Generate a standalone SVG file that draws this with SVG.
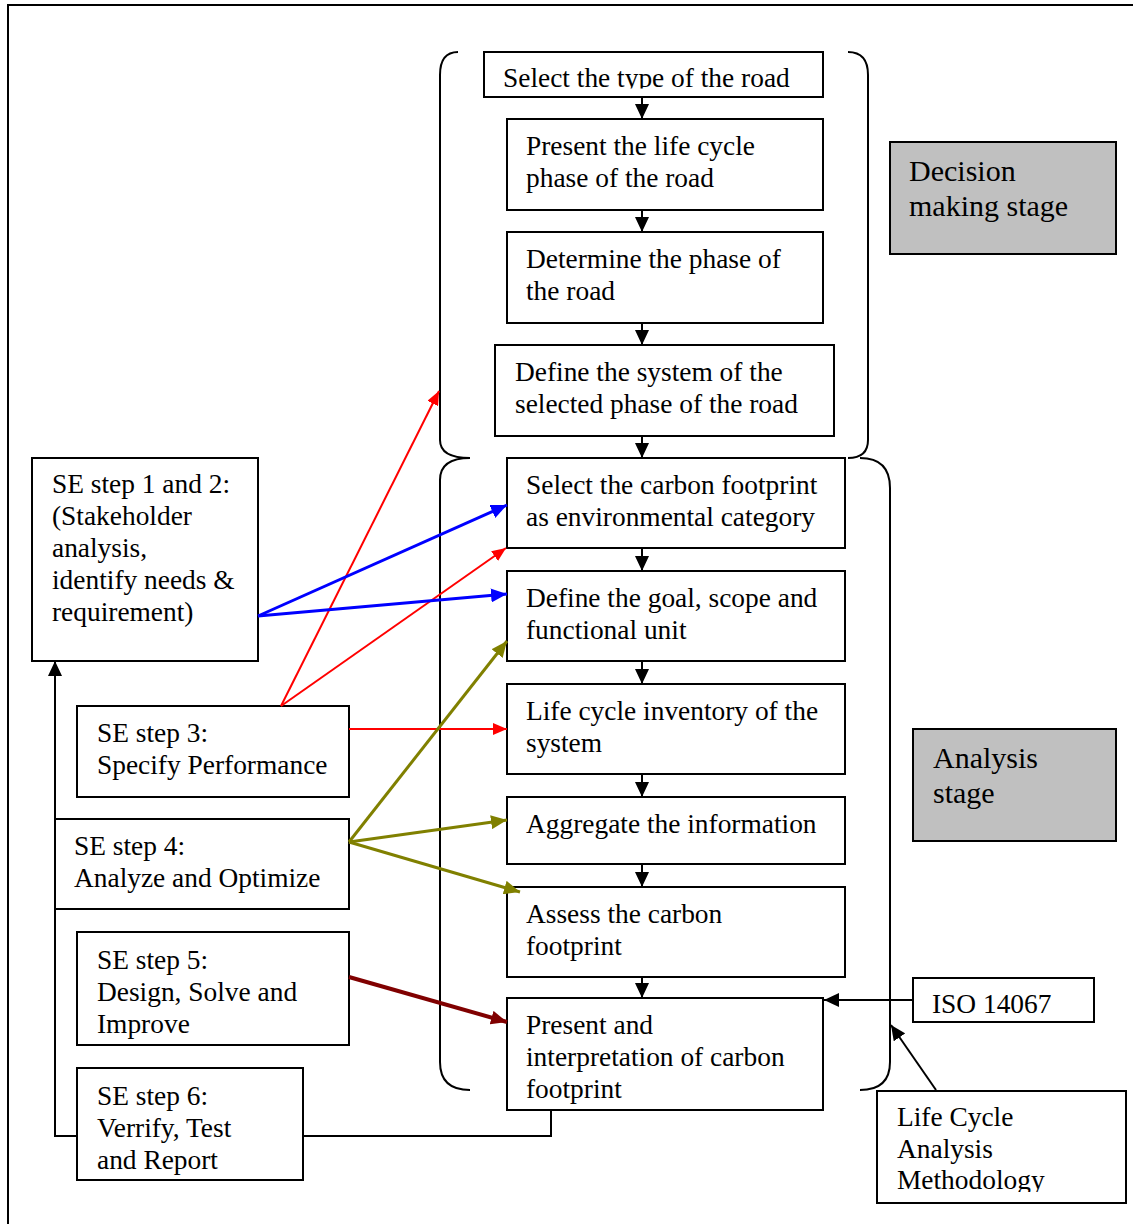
<svg xmlns="http://www.w3.org/2000/svg" width="1133" height="1224" viewBox="0 0 1133 1224">
<style>
.box{fill:#fff;stroke:#000;stroke-width:2}
.gray{fill:#c0c0c0;stroke:#000;stroke-width:2}
.t{font-family:"Liberation Serif","Times New Roman",serif;font-size:27.4px;fill:#000}
.tl{font-family:"Liberation Serif","Times New Roman",serif;font-size:30px;fill:#000}
.br{fill:none;stroke:#000;stroke-width:2}
.k{fill:none;stroke:#000;stroke-width:2}
.red{fill:none;stroke:#ff0000;stroke-width:2}
.blue{fill:none;stroke:#0000ff;stroke-width:3}
.olive{fill:none;stroke:#808000;stroke-width:3}
.dred{fill:none;stroke:#800000;stroke-width:4}
</style>
<defs>
<marker id="ah-k" markerUnits="userSpaceOnUse" markerWidth="16" markerHeight="14" refX="15" refY="7" orient="auto"><path d="M0,0 L15,7 L0,14 z" fill="#000"/></marker>
<marker id="ah-r" markerUnits="userSpaceOnUse" markerWidth="15" markerHeight="12" refX="14" refY="6" orient="auto"><path d="M0,0 L14,6 L0,12 z" fill="#ff0000"/></marker>
<marker id="ah-b" markerUnits="userSpaceOnUse" markerWidth="17" markerHeight="14" refX="16" refY="7" orient="auto"><path d="M0,0 L16,7 L0,14 z" fill="#0000ff"/></marker>
<marker id="ah-o" markerUnits="userSpaceOnUse" markerWidth="17" markerHeight="14" refX="16" refY="7" orient="auto"><path d="M0,0 L16,7 L0,14 z" fill="#808000"/></marker>
<marker id="ah-d" markerUnits="userSpaceOnUse" markerWidth="17" markerHeight="14" refX="16" refY="7" orient="auto"><path d="M0,0 L16,7 L0,14 z" fill="#800000"/></marker>
<clipPath id="clip1"><rect x="484" y="52" width="339" height="36.5"/></clipPath>
<clipPath id="clip2"><rect x="877" y="1091" width="249" height="101"/></clipPath>
</defs>

<rect x="8" y="5" width="1200" height="1300" fill="none" stroke="#000" stroke-width="2"/>

<g id="brackets">
<path class="br" d="M458,52 Q440,52 440,75 L440,440 Q440,458 470,458"/>
<path class="br" d="M848,52 Q868,52 868,75 L868,440 Q868,458 848,458"/>
<path class="br" d="M470,458 Q440,458 440,480 L440,1062 Q440,1090 470,1090"/>
<path class="br" d="M860,458 Q890,458 890,488 L890,1062 Q890,1090 860,1090"/>
</g>

<g id="n1"><rect class="box" x="484" y="52" width="339" height="45"/><text class="t" x="503" y="87" clip-path="url(#clip1)">Select the type of the road</text></g>
<g id="n2"><rect class="box" x="507" y="119" width="316" height="91"/><text class="t" x="526" y="155">Present the life cycle</text><text class="t" x="526" y="187">phase of the road</text></g>
<g id="n3"><rect class="box" x="507" y="232" width="316" height="91"/><text class="t" x="526" y="268">Determine the phase of</text><text class="t" x="526" y="300">the road</text></g>
<g id="n4"><rect class="box" x="495" y="345" width="339" height="91"/><text class="t" x="515" y="381">Define the system of the</text><text class="t" x="515" y="413">selected phase of the road</text></g>
<g id="n5"><rect class="box" x="507" y="458" width="338" height="90"/><text class="t" x="526" y="494">Select the carbon footprint</text><text class="t" x="526" y="526">as environmental category</text></g>
<g id="n6"><rect class="box" x="507" y="571" width="338" height="90"/><text class="t" x="526" y="607">Define the goal, scope and</text><text class="t" x="526" y="639">functional unit</text></g>
<g id="n7"><rect class="box" x="507" y="684" width="338" height="90"/><text class="t" x="526" y="720">Life cycle inventory of the</text><text class="t" x="526" y="752">system</text></g>
<g id="n8"><rect class="box" x="507" y="797" width="338" height="67"/><text class="t" x="526" y="833">Aggregate the information</text></g>
<g id="n9"><rect class="box" x="507" y="887" width="338" height="90"/><text class="t" x="526" y="923">Assess the carbon</text><text class="t" x="526" y="955">footprint</text></g>
<g id="n10"><rect class="box" x="507" y="998" width="316" height="112"/><text class="t" x="526" y="1034">Present and</text><text class="t" x="526" y="1066">interpretation of carbon</text><text class="t" x="526" y="1098">footprint</text></g>

<g id="decision"><rect class="gray" x="890" y="142" width="226" height="112"/><text class="tl" x="909" y="181">Decision</text><text class="tl" x="909" y="216">making stage</text></g>
<g id="analysis"><rect class="gray" x="913" y="729" width="203" height="112"/><text class="tl" x="933" y="768">Analysis</text><text class="tl" x="933" y="803">stage</text></g>
<g id="iso"><rect class="box" x="913" y="978" width="181" height="44"/><text class="t" x="932" y="1013">ISO 14067</text></g>
<g id="lca"><rect class="box" x="877" y="1091" width="249" height="112"/><g clip-path="url(#clip2)"><text class="t" x="897" y="1126">Life Cycle</text><text class="t" x="897" y="1158">Analysis</text><text class="t" x="897" y="1189">Methodology</text></g></g>

<g id="se12"><rect class="box" x="32" y="458" width="226" height="203"/><text class="t" x="52" y="493">SE step 1 and 2:</text><text class="t" x="52" y="525">(Stakeholder</text><text class="t" x="52" y="557">analysis,</text><text class="t" x="52" y="589">identify needs &amp;</text><text class="t" x="52" y="621">requirement)</text></g>
<g id="se3"><rect class="box" x="77" y="706" width="272" height="91"/><text class="t" x="97" y="742">SE step 3:</text><text class="t" x="97" y="774">Specify Performance</text></g>
<g id="se4"><rect class="box" x="55" y="819" width="294" height="90"/><text class="t" x="74" y="855">SE step 4:</text><text class="t" x="74" y="887">Analyze and Optimize</text></g>
<g id="se5"><rect class="box" x="77" y="932" width="272" height="113"/><text class="t" x="97" y="969">SE step 5:</text><text class="t" x="97" y="1001">Design, Solve and</text><text class="t" x="97" y="1033">Improve</text></g>
<g id="se6"><rect class="box" x="77" y="1068" width="226" height="112"/><text class="t" x="97" y="1105">SE step 6:</text><text class="t" x="97" y="1137">Verrify, Test</text><text class="t" x="97" y="1169">and Report</text></g>

<g id="connectors">
<line class="k" x1="642" y1="97" x2="642" y2="119" marker-end="url(#ah-k)"/>
<line class="k" x1="642" y1="210" x2="642" y2="232" marker-end="url(#ah-k)"/>
<line class="k" x1="642" y1="323" x2="642" y2="345" marker-end="url(#ah-k)"/>
<line class="k" x1="642" y1="436" x2="642" y2="458" marker-end="url(#ah-k)"/>
<line class="k" x1="642" y1="548" x2="642" y2="571" marker-end="url(#ah-k)"/>
<line class="k" x1="642" y1="661" x2="642" y2="684" marker-end="url(#ah-k)"/>
<line class="k" x1="642" y1="774" x2="642" y2="797" marker-end="url(#ah-k)"/>
<line class="k" x1="642" y1="864" x2="642" y2="887" marker-end="url(#ah-k)"/>
<line class="k" x1="642" y1="977" x2="642" y2="998" marker-end="url(#ah-k)"/>
<line class="k" x1="913" y1="1000" x2="824" y2="1000" marker-end="url(#ah-k)"/>
<line class="k" x1="936" y1="1090" x2="891" y2="1025" marker-end="url(#ah-k)"/>
<path class="k" d="M551,1110 L551,1136 L303,1136"/>
<path class="k" d="M77,1136 L55,1136 L55,661" marker-end="url(#ah-k)"/>
<line class="red" x1="281" y1="706" x2="439" y2="391" marker-end="url(#ah-r)"/>
<line class="red" x1="281" y1="706" x2="506" y2="548" marker-end="url(#ah-r)"/>
<line class="red" x1="349" y1="729" x2="507" y2="729" marker-end="url(#ah-r)"/>
<line class="blue" x1="258" y1="616" x2="507" y2="505" marker-end="url(#ah-b)"/>
<line class="blue" x1="258" y1="616" x2="507" y2="594" marker-end="url(#ah-b)"/>
<line class="olive" x1="349" y1="842" x2="507" y2="641" marker-end="url(#ah-o)"/>
<line class="olive" x1="349" y1="842" x2="507" y2="820" marker-end="url(#ah-o)"/>
<line class="olive" x1="349" y1="842" x2="520" y2="892" marker-end="url(#ah-o)"/>
<line class="dred" x1="349" y1="977" x2="507" y2="1022" marker-end="url(#ah-d)"/>
</g>
</svg>
